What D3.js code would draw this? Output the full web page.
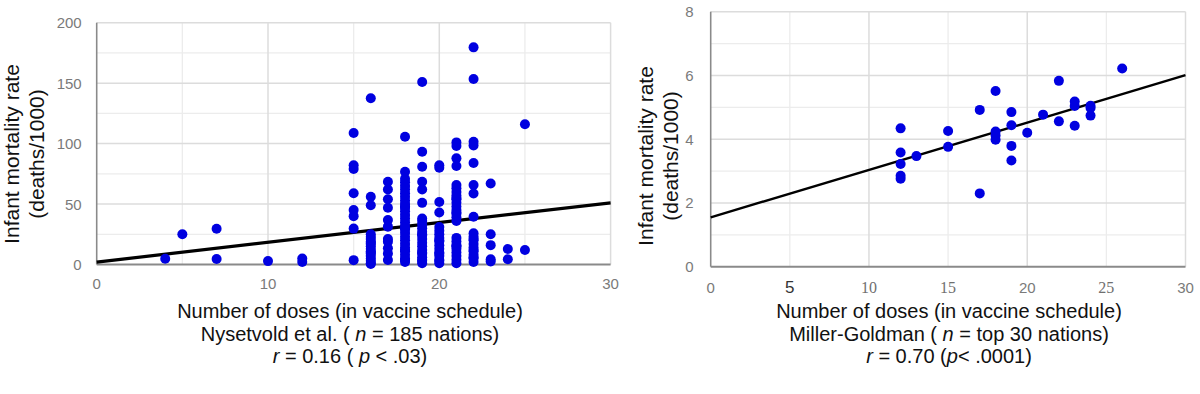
<!DOCTYPE html>
<html>
<head>
<meta charset="utf-8">
<script src="https://cdn.jsdelivr.net/npm/d3@7/dist/d3.min.js"></script>
<style>
  html, body { margin: 0; padding: 0; background: #ffffff; }
  svg { display: block; }
  text { font-family: "Liberation Sans", Arial, sans-serif; }
</style>
</head>
<body>
<svg id="chart" width="1200" height="394"></svg>
<script>
// ---------------- DATA ----------------
// Left panel: Nysetvold et al. (n = 185 nations) — dose count → infant mortality rates
const nysetvoldGroups = [
  [4,  [4.7]],
  [5,  [25]],
  [7,  [29.5, 4.5]],
  [10, [2.8]],
  [12, [2, 5]],
  [15, [108.7, 82, 79, 59, 45, 40, 29.7, 3.6]],
  [16, [137.5, 56, 49, 25, 23, 21, 19, 17, 15, 13, 11, 9, 7, 5, 3, 1, 0.5, 18, 10]],
  [17, [68.5, 62, 54, 47, 36.8, 31.3, 21, 18.9, 13.4, 9, 3.7]],
  [18, [105.6, 76.7, 71, 68, 65, 62, 59, 56, 53, 50, 47, 44, 41, 38, 35, 32, 29, 26, 23, 20, 17, 14, 11, 8, 5, 2, 48, 30, 12, 4]],
  [19, [151, 93.2, 80.8, 68.4, 62, 51, 38, 36, 33, 30, 27, 24, 21, 18, 15, 12, 9, 6, 3, 1, 25, 10, 4]],
  [20, [82, 80, 51.7, 43, 31, 28, 25, 22, 19, 16, 13, 10, 7, 4, 1, 20, 9, 3]],
  [21, [101, 98, 87.8, 81.5, 65.7, 63, 60, 57, 54, 51, 48, 45, 42, 39, 36, 22, 19, 16, 13, 10, 7, 4, 1, 55, 43, 15]],
  [22, [179.6, 153.5, 101.5, 98.5, 84, 65.7, 58.8, 39.5, 25.8, 23, 20, 17, 14, 11, 8, 5, 2, 21, 12, 6]],
  [23, [67, 25, 16, 4.3, 2.5]],
  [24, [12.8, 4.3]],
  [25, [116, 12]]
];
const nysetvoldTrend = [[0, 2], [30, 51]];

// Right panel: Miller-Goldman (n = top 30 nations)
const millerDoses = [12, 12, 12, 12, 12, 13, 15, 15, 17, 17, 18, 18, 18, 18, 19, 19, 19, 19, 20, 21, 22, 22, 23, 23, 23, 24, 24, 24, 26];
const millerRates = [4.34, 3.58, 3.22, 2.85, 2.76, 3.47, 4.26, 3.76, 4.92, 2.30, 5.51, 4.24, 4.12, 3.98, 4.85, 4.44, 3.79, 3.33, 4.20, 4.77, 5.83, 4.56, 5.18, 5.04, 4.42, 5.05, 4.98, 4.74, 6.22];
const millerTrend = [[0, 1.55], [30, 6.01]];

// Axis ticks
const leftXTicks = [0, 10, 20, 30];
const leftYTicks = [0, 50, 100, 150, 200];
const leftYMinor = [25, 75, 125, 175];
const leftXMinor = [5, 15, 25];
const rightXTicks = [0, 5, 10, 15, 20, 25, 30];
const rightYTicks = [0, 2, 4, 6, 8];
const rightYMinor = [1, 3, 5, 7];

// Texts
const yTitleLines = ["Infant mortality rate", "(deaths/1000)"];
const leftCaption = [
  [["Number of doses (in vaccine schedule)", false]],
  [["Nysetvold et al. ( ", false], ["n", true], [" = 185 nations)", false]],
  [["r", true], [" = 0.16 ( ", false], ["p", true], [" < .03)", false]]
];
const rightCaption = [
  [["Number of doses (in vaccine schedule)", false]],
  [["Miller-Goldman ( ", false], ["n", true], [" = top 30 nations)", false]],
  [["r", true], [" = 0.70 (", false], ["p", true], ["< .0001)", false]]
];

// ---------------- DRAW ----------------
const svg = d3.select("#chart");
const BLUE = "#0000e0";

function panel(cfg) {
  const g = svg.append("g");
  const x = d3.scaleLinear().domain(cfg.xDomain).range(cfg.xRange);
  const y = d3.scaleLinear().domain(cfg.yDomain).range(cfg.yRange);

  // minor grid
  g.selectAll(".ymin").data(cfg.yMinor).join("line")
    .attr("x1", x.range()[0]).attr("x2", x.range()[1])
    .attr("y1", d => y(d)).attr("y2", d => y(d))
    .attr("stroke", "#ececec").attr("stroke-width", 1.3);
  g.selectAll(".xmin").data(cfg.xMinor).join("line")
    .attr("x1", d => x(d)).attr("x2", d => x(d))
    .attr("y1", y.range()[0]).attr("y2", y.range()[1])
    .attr("stroke", "#ececec").attr("stroke-width", 1.3);
  // major grid
  g.selectAll(".ymaj").data(cfg.yTicks.filter(d => d !== cfg.yDomain[0])).join("line")
    .attr("x1", x.range()[0]).attr("x2", x.range()[1])
    .attr("y1", d => y(d)).attr("y2", d => y(d))
    .attr("stroke", "#dcdcdc").attr("stroke-width", 1.5);
  g.selectAll(".xmaj").data(cfg.xMajorGrid).join("line")
    .attr("x1", d => x(d)).attr("x2", d => x(d))
    .attr("y1", y.range()[0]).attr("y2", y.range()[1])
    .attr("stroke", "#dcdcdc").attr("stroke-width", 1.5);

  // axes lines
  g.append("line").attr("x1", x.range()[0]).attr("x2", x.range()[0])
    .attr("y1", y.range()[0]).attr("y2", y.range()[1])
    .attr("stroke", "#8a8a8a").attr("stroke-width", 1.6);
  g.append("line").attr("x1", x.range()[0]).attr("x2", x.range()[1])
    .attr("y1", y(0)).attr("y2", y(0))
    .attr("stroke", "#8a8a8a").attr("stroke-width", 2);

  // tick labels
  g.selectAll(".yl").data(cfg.yTicks).join("text")
    .attr("x", x.range()[0] - cfg.yLabelGap).attr("y", d => y(d) + 5.5)
    .attr("text-anchor", "end").attr("font-size", 15).attr("fill", "#7a7a7a")
    .text(d => d);
  g.selectAll(".xl").data(cfg.xTicks).join("text")
    .attr("x", d => x(d)).attr("y", cfg.xLabelY)
    .attr("text-anchor", "middle")
    .attr("font-size", d => cfg.xTickStyle(d).size)
    .attr("fill", d => cfg.xTickStyle(d).color)
    .style("font-family", d => cfg.xTickStyle(d).family)
    .text(d => d);

  // trend line
  g.append("path")
    .attr("d", d3.line().x(d => x(d[0])).y(d => y(d[1]))(cfg.trend))
    .attr("fill", "none").attr("stroke", "#000").attr("stroke-width", cfg.trendWidth);

  // points
  g.selectAll(".pt").data(cfg.points).join("circle")
    .attr("cx", d => x(d[0])).attr("cy", d => y(d[1]))
    .attr("r", cfg.r).attr("fill", BLUE);

  // y title
  const tx = cfg.yTitleX, ty = cfg.yTitleY;
  yTitleLines.forEach((t, i) => {
    g.append("text")
      .attr("transform", `translate(${tx[i]},${ty}) rotate(-90)`)
      .attr("text-anchor", "middle").attr("font-size", 21).attr("fill", "#111")
      .text(t);
  });

  // caption
  cfg.caption.forEach((parts, i) => {
    const t = g.append("text")
      .attr("x", cfg.captionX).attr("y", cfg.captionY[i])
      .attr("text-anchor", "middle").attr("font-size", 20).attr("fill", "#111");
    parts.forEach(([s, it]) => {
      t.append("tspan").attr("font-style", it ? "italic" : "normal").text(s);
    });
  });
}

const sans = { size: 15, color: "#7a7a7a", family: '"Liberation Sans", Arial, sans-serif' };

panel({
  xDomain: [0, 30], xRange: [96.7, 610.6],
  yDomain: [0, 200], yRange: [264.5, 22.7],
  yTicks: leftYTicks, yMinor: leftYMinor, xMinor: leftXMinor, xMajorGrid: [10, 20, 30],
  xTicks: leftXTicks, xLabelY: 289, yLabelGap: 15,
  xTickStyle: () => sans,
  trend: nysetvoldTrend, trendWidth: 3.2,
  points: nysetvoldGroups.flatMap(([dose, rates]) => rates.map(r => [dose, r])),
  r: 5,
  yTitleX: [19, 44], yTitleY: 154,
  caption: leftCaption, captionX: 350, captionY: [318, 340.5, 363]
});

const serif = { size: 16, color: "#6f6f6f", family: '"Liberation Serif", "Times New Roman", serif' };
const darkSans = { size: 17, color: "#333", family: '"Liberation Sans", Arial, sans-serif' };
panel({
  xDomain: [0, 30], xRange: [710.7, 1185.5],
  yDomain: [0, 8], yRange: [266.7, 11.7],
  yTicks: rightYTicks, yMinor: rightYMinor, xMinor: [5, 15, 25], xMajorGrid: [10, 20, 30],
  xTicks: rightXTicks, xLabelY: 292.5, yLabelGap: 17,
  xTickStyle: d => (d === 5 ? darkSans : (d === 10 || d === 15 || d === 25) ? serif : sans),
  trend: millerTrend, trendWidth: 2.4,
  points: millerDoses.map((d, i) => [d, millerRates[i]]),
  r: 5,
  yTitleX: [653, 678], yTitleY: 156,
  caption: rightCaption, captionX: 949, captionY: [318, 340.5, 363]
});
</script>
</body>
</html>
